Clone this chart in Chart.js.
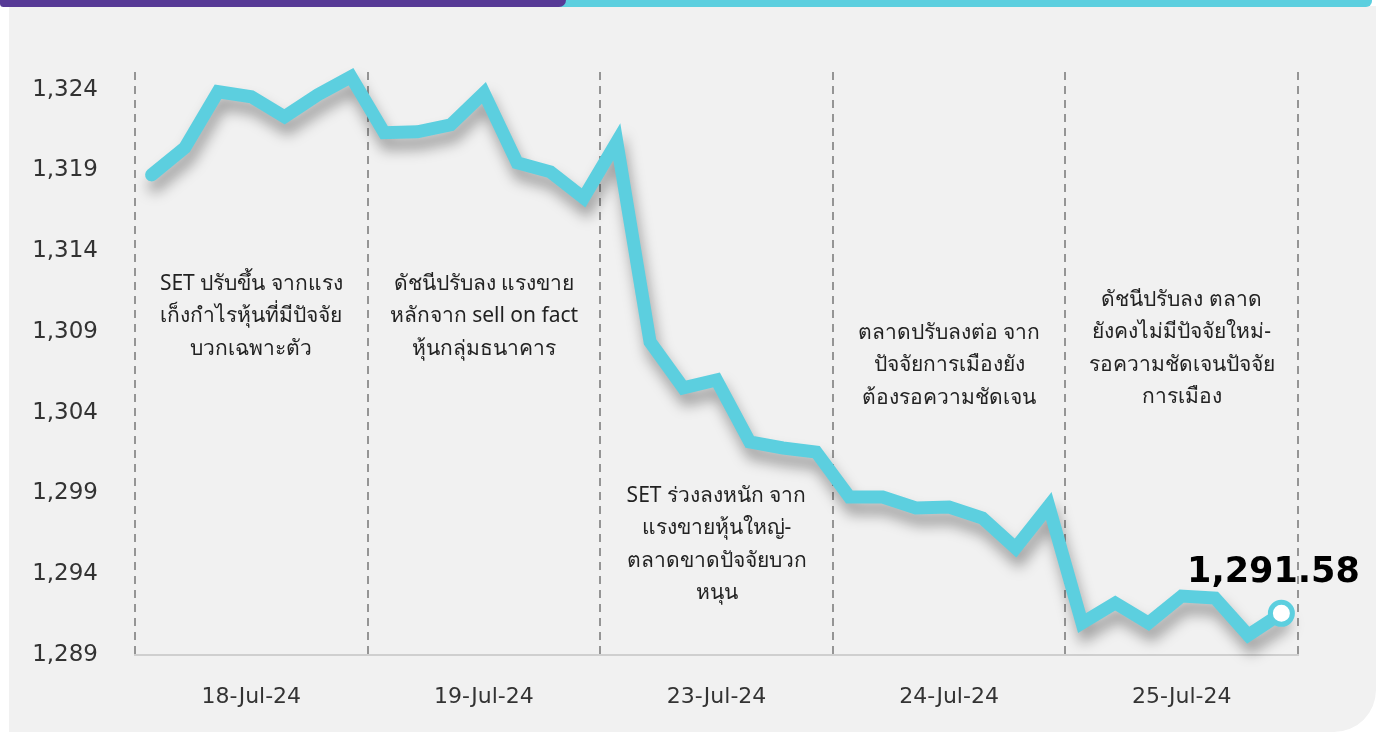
<!DOCTYPE html>
<html>
<head>
<meta charset="utf-8">
<script src="https://cdn.jsdelivr.net/npm/chart.js@4.4.1/dist/chart.umd.min.js"></script>
<style>
  html, body { margin: 0; padding: 0; background: #fff; }
  #wrap { position: relative; width: 1376px; height: 732px; overflow: hidden; }
  .panel { position: absolute; left: 9px; top: 6px; right: 0; bottom: 0; background: #f1f1f1; border-bottom-right-radius: 42px; }
  .band-cyan { position: absolute; left: 540px; top: 0; right: 4px; height: 7px; background: #5ccfdf; border-bottom-right-radius: 6px; }
  .band-purple { position: absolute; left: 0; top: 0; width: 566px; height: 7px; background: #573a96; border-bottom-right-radius: 12px; border-bottom-left-radius: 6px; }
  canvas { position: absolute; left: 0; top: 0; }
</style>
</head>
<body>
<div id="wrap">
  <div class="panel"></div>
  <div class="band-cyan"></div>
  <div class="band-purple"></div>
  <canvas id="setChart" width="1376" height="732"></canvas>
</div>
<script>
// SET index, 7 readings per trading day
const days = ['18-Jul-24', '19-Jul-24', '23-Jul-24', '24-Jul-24', '25-Jul-24'];
const jul18 = [1318.73, 1320.41, 1323.88, 1323.57, 1322.33, 1323.69, 1324.81];
const jul19 = [1321.34, 1321.40, 1321.83, 1323.81, 1319.48, 1318.92, 1317.31];
const jul23 = [1320.78, 1308.39, 1305.54, 1306.03, 1302.19, 1301.82, 1301.57];
const jul24 = [1298.78, 1298.78, 1298.10, 1298.16, 1297.48, 1295.62, 1298.23];
const jul25 = [1290.98, 1292.22, 1290.98, 1292.65, 1292.53, 1290.23, 1291.58];
const yTicks = [1289, 1294, 1299, 1304, 1309, 1314, 1319, 1324];

const notes = [
  ['SET ปรับขึ้น จากแรง', 'เก็งกำไรหุ้นที่มีปัจจัย', 'บวกเฉพาะตัว'],
  ['ดัชนีปรับลง แรงขาย', 'หลักจาก sell on fact', 'หุ้นกลุ่มธนาคาร'],
  ['SET ร่วงลงหนัก จาก', 'แรงขายหุ้นใหญ่-', 'ตลาดขาดปัจจัยบวก', 'หนุน'],
  ['ตลาดปรับลงต่อ จาก', 'ปัจจัยการเมืองยัง', 'ต้องรอความชัดเจน'],
  ['ดัชนีปรับลง ตลาด', 'ยังคงไม่มีปัจจัยใหม่-', 'รอความชัดเจนปัจจัย', 'การเมือง'],
];
// where the first line of each note sits, in index units
const noteTop = [1312.0, 1312.0, 1298.85, 1308.95, 1311.0];

const perDay = 7;
const values = [].concat(jul18, jul19, jul23, jul24, jul25);
const points = values.map((v, i) => ({ x: i + 0.5, y: v }));
const last = values.length - 1;
const cyan = '#5ccfdf';
const numFont = '"DejaVu Sans", sans-serif';

// soft drop shadow under the index line only
const lineShadow = {
  id: 'lineShadow',
  beforeDatasetDraw(chart, args) {
    if (args.index !== 0) return;
    const c = chart.ctx;
    c.save();
    c.shadowColor = 'rgba(0,0,0,0.35)';
    c.shadowBlur = 14;
    c.shadowOffsetX = 3;
    c.shadowOffsetY = 11;
  },
  afterDatasetDraw(chart, args) {
    if (args.index !== 0) return;
    chart.ctx.restore();
  }
};

const textLayer = {
  id: 'textLayer',
  afterDatasetsDraw(chart) {
    const c = chart.ctx;
    const xs = chart.scales.x, ys = chart.scales.y;
    c.save();
    c.fillStyle = '#222';
    c.font = '21px "Noto Sans", sans-serif';
    c.textAlign = 'center';
    c.textBaseline = 'middle';
    notes.forEach((lines, d) => {
      const cx = xs.getPixelForValue(d * perDay + perDay / 2);
      const top = ys.getPixelForValue(noteTop[d]);
      lines.forEach((t, k) => c.fillText(t, cx, top + k * 32.5));
    });
    // closing value
    const pt = chart.getDatasetMeta(1).data[0];
    c.fillStyle = '#000';
    c.font = 'bold 35px ' + numFont;
    c.fillText(values[last].toLocaleString('en-US', { minimumFractionDigits: 2 }), pt.x - 8, pt.y - 40);
    c.restore();
  }
};

const ctx = document.getElementById('setChart').getContext('2d');
const chart = new Chart(ctx, {
  type: 'line',
  data: {
    datasets: [{
      data: points,
      order: 1,
      borderColor: cyan,
      borderWidth: 13,
      borderJoinStyle: 'miter',
      borderCapStyle: 'round',
      tension: 0,
      clip: false,
      pointRadius: 0,
    }, {
      data: [points[last]],
      order: 0,
      showLine: false,
      clip: false,
      pointRadius: 11,
      pointBackgroundColor: '#fff',
      pointBorderColor: cyan,
      pointBorderWidth: 5,
    }]
  },
  options: {
    responsive: false,
    animation: false,
    layout: { padding: { top: 72, right: 78, left: 0, bottom: 0 } },
    plugins: { legend: { display: false }, tooltip: { enabled: false } },
    scales: {
      x: {
        type: 'linear',
        min: 0,
        max: days.length * perDay,
        afterBuildTicks: (s) => {
          const t = [];
          for (let v = 0; v <= days.length * perDay; v += perDay / 2) t.push({ value: v });
          s.ticks = t;
        },
        afterFit: (s) => { s.height = 77; },
        grid: {
          drawTicks: false,
          lineWidth: 2,
          color: (c) => c.tick && c.tick.value % perDay === 0 ? '#959595' : 'rgba(0,0,0,0)',
        },
        border: { display: true, color: '#cfcfcf', width: 2, dash: [8, 6] },
        ticks: {
          autoSkip: false,
          maxRotation: 0,
          padding: 29,
          color: '#333',
          font: { family: numFont, size: 22 },
          callback: (v) => v % perDay === 0 ? '' : days[Math.floor(v / perDay)],
        },
      },
      y: {
        min: 1289,
        max: 1325.1,
        afterBuildTicks: (s) => { s.ticks = yTicks.map(v => ({ value: v })); },
        afterFit: (s) => { s.width = 135; },
        grid: { display: false, drawTicks: false },
        border: { display: false },
        ticks: {
          padding: 37,
          color: '#333',
          font: { family: numFont, size: 23 },
          callback: (v) => v.toLocaleString('en-US'),
        },
      },
    },
  },
  plugins: [lineShadow, textLayer],
});
</script>
</body>
</html>
